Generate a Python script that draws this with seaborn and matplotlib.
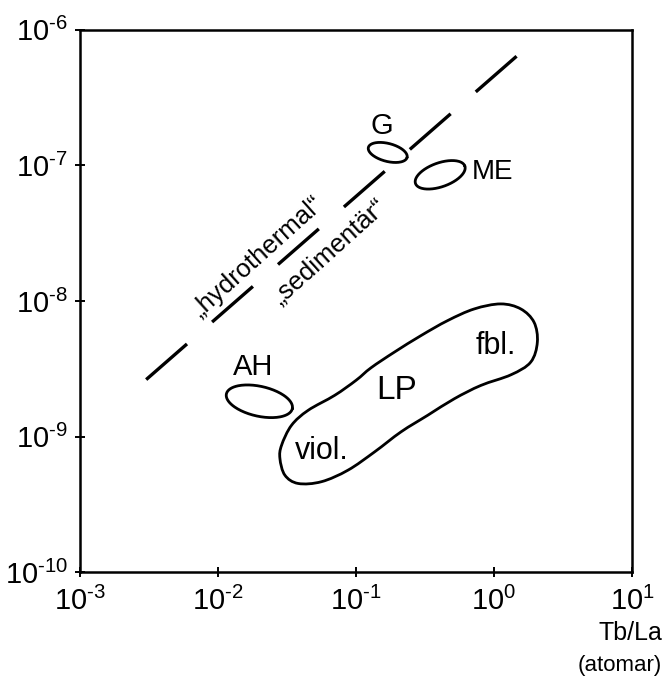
import numpy as np
import matplotlib
matplotlib.use("Agg")
import matplotlib.pyplot as plt
import seaborn as sns
import pandas as pd
from matplotlib.path import Path
from matplotlib.patches import PathPatch

# ---------------- data (log10 values) ----------------
x_ticks = [1e-3, 1e-2, 1e-1, 1e0, 1e1]
x_tick_labels = ["$10^{\\text{-}3}$", "$10^{\\text{-}2}$", "$10^{\\text{-}1}$",
                 "$10^{0}$", "$10^{1}$"]
y_ticks = [1e-10, 1e-9, 1e-8, 1e-7, 1e-6]
y_tick_labels = ["$10^{\\text{-}10}$", "$10^{\\text{-}9}$", "$10^{\\text{-}8}$",
                 "$10^{\\text{-}7}$", "$10^{\\text{-}6}$"]

# boundary "hydrothermal" / "sedimentär"
boundary_logx = [-2.52, 0.17]
boundary_logy = [-8.58, -6.19]

# small fields (ellipses): centre, semi-axes (decades), tilt
ellipse_names = ["G", "ME", "AH"]
ellipse_cx = [-0.77, -0.39, -1.70]
ellipse_cy = [-6.905, -7.07, -8.74]
ellipse_a = [0.145, 0.19, 0.245]
ellipse_b = [0.066, 0.088, 0.11]
ellipse_ang = [-15, 20, -13]

# LP field outline
lp_logx = [-1.539, -1.467, -1.347, -1.154, -0.999, -0.891, -0.721, -0.528,
           -0.336, -0.143, 0.049, 0.194, 0.290, 0.314, 0.266, 0.124,
           -0.095, -0.287, -0.480, -0.673, -0.865, -1.058, -1.250,
           -1.419, -1.515, -1.551]
lp_logy = [-9.064, -8.917, -8.807, -8.696, -8.585, -8.493, -8.377, -8.255,
           -8.145, -8.059, -8.022, -8.059, -8.157, -8.304, -8.451, -8.544,
           -8.623, -8.721, -8.843, -8.965, -9.113, -9.248, -9.333,
           -9.346, -9.285, -9.162]

# labels
label_text = ["G", "ME", "AH", "fbl.", "LP", "viol."]
label_logx = [-0.815, -0.01, -1.745, 0.01, -0.705, -1.25]
label_logy = [-6.713, -7.051, -8.485, -8.33, -8.66, -9.11]
label_size = [21, 20, 21, 22, 24, 22]

rot_text = ["„hydrothermal“", "„sedimentär“"]
rot_logx = [-1.715, -1.20]
rot_logy = [-7.675, -7.635]

# ---------------- style ----------------
sns.set_theme(style="white")
fam = ["Liberation Sans", "DejaVu Sans"]
plt.rcParams["font.family"] = fam
plt.rcParams["mathtext.fontset"] = "custom"
plt.rcParams["mathtext.rm"] = "Liberation Sans"
plt.rcParams["mathtext.it"] = "Liberation Sans"
plt.rcParams["mathtext.bf"] = "Liberation Sans"
plt.rcParams["mathtext.sf"] = "Liberation Sans"
plt.rcParams["lines.scale_dashes"] = False
plt.rcParams["text.color"] = "black"

fig = plt.figure(figsize=(6.66, 6.91), dpi=100)
ax = fig.add_axes([0.120, 0.172, 0.829, 0.785])
ax.set_xscale("log")
ax.set_yscale("log")
ax.set_xlim(1e-3, 1e1)
ax.set_ylim(1e-10, 1e-6)

# boundary line
bdf = pd.DataFrame({"x": 10 ** np.array(boundary_logx), "y": 10 ** np.array(boundary_logy)})
sns.lineplot(data=bdf, x="x", y="y", ax=ax, color="black", lw=2.4,
             sort=False, estimator=None)
ax.lines[-1].set_dashes([39, 24])
ax.lines[-1].set_dash_capstyle("butt")

# ellipses
t = np.linspace(0, 2 * np.pi, 200)
for cx, cy, a, b, ang in zip(ellipse_cx, ellipse_cy, ellipse_a, ellipse_b, ellipse_ang):
    th = np.deg2rad(ang)
    ex = cx + a * np.cos(t) * np.cos(th) - b * np.sin(t) * np.sin(th)
    ey = cy + a * np.cos(t) * np.sin(th) + b * np.sin(t) * np.cos(th)
    edf = pd.DataFrame({"x": 10 ** ex, "y": 10 ** ey})
    sns.lineplot(data=edf, x="x", y="y", ax=ax, color="black", lw=2.0,
                 sort=False, estimator=None)

# LP outline as a smooth closed path (Catmull-Rom -> Bezier)
P = np.column_stack([lp_logx, lp_logy])
n = len(P)
verts = [P[0]]
codes = [Path.MOVETO]
for i in range(n):
    p0, p1, p2, p3 = P[i - 1], P[i], P[(i + 1) % n], P[(i + 2) % n]
    c1 = p1 + (p2 - p0) / 6.0
    c2 = p2 - (p3 - p1) / 6.0
    verts += [c1, c2, p2]
    codes += [Path.CURVE4] * 3
verts = 10 ** np.array(verts)
ax.add_patch(PathPatch(Path(verts, codes), facecolor="none", edgecolor="black", lw=2.0))

# labels
for s, lx, ly, fs in zip(label_text, label_logx, label_logy, label_size):
    ax.text(10 ** lx, 10 ** ly, s, fontsize=fs, ha="center", va="center", color="black")
for s, lx, ly in zip(rot_text, rot_logx, rot_logy):
    ax.text(10 ** lx, 10 ** ly, s, fontsize=18.5, ha="center", va="center",
            rotation=42, rotation_mode="anchor", color="black")

# axes
ax.set_xticks(x_ticks)
ax.set_xticklabels(x_tick_labels)
ax.set_yticks(y_ticks)
ax.set_yticklabels(y_tick_labels)
ax.minorticks_off()
ax.tick_params(axis="both", which="major", direction="inout", length=7, width=1.4,
               labelsize=21, colors="black", pad=5,
               bottom=True, left=True, top=False, right=False)
ax.tick_params(axis="x", pad=7)
for sp in ax.spines.values():
    sp.set_color("black")
    sp.set_linewidth(1.8)
ax.set_xlabel("")
ax.set_ylabel("")

fig.text(0.994, 0.084, "Tb/La", ha="right", va="center", fontsize=18, color="black")
fig.text(0.994, 0.037, "(atomar)", ha="right", va="center", fontsize=16, color="black")

fig.savefig("out.png", dpi=100, facecolor="white")
